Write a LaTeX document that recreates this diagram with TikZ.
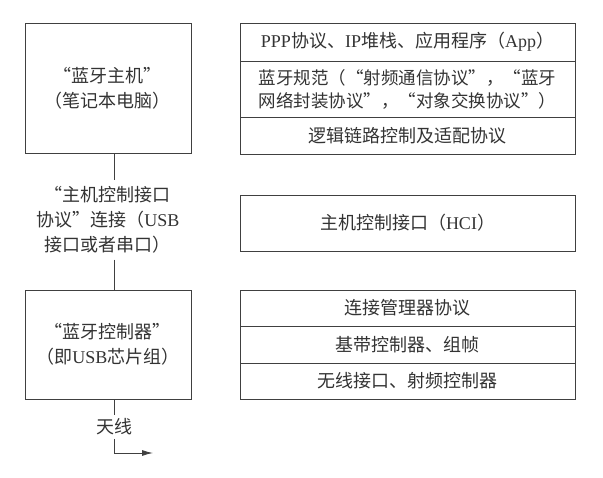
\documentclass[tikz,border=0pt]{standalone}
\usepackage{fontspec}
\setmainfont{Liberation Serif}
\newfontfamily\cjk{Noto Sans CJK SC}
\usetikzlibrary{positioning,arrows.meta}
\newcommand{\en}[1]{{\rmfamily #1}}
\begin{document}
\begin{tikzpicture}[x=1pt,y=-1pt,
  every node/.style={font=\cjk\fontsize{18}{25}\selectfont,text=black!80},
  unit/.style={draw=black!75,line width=0.9pt,minimum width=166pt,align=center},
  layer/.style={draw=black!75,line width=0.9pt,minimum width=335pt,inner sep=0pt,outer sep=0pt,align=center},
  wire/.style={draw=black!75,line width=0.9pt}]
\useasboundingbox (0,0) rectangle (603,478);
% Host, HCI link, controller
\node[unit,minimum height=130pt] (host) at (108,88) {“蓝牙主机”\\（笔记本电脑）};
\node[align=center,inner ysep=6pt] (hcilink) at (108,220) {“主机控制接口\\协议”连接（\en{USB}\\接口或者串口）};
\node[unit,minimum height=109pt] (ctrl) at (108,344.5) {“蓝牙控制器”\\（即\en{USB}芯片组）};
\node (ant) at (114,427) {天线};
\coordinate (anttip) at (153,453);
\draw[wire] (host.south -| ant) -- (hcilink.north -| ant);
\draw[wire] (hcilink.south -| ant) -- (ctrl.north -| ant);
\draw[wire] (ctrl.south -| ant) -- (ant.north);
\draw[wire,-{Latex[length=11pt,width=6pt]}] (ant.south) |- (anttip);
% Host stack
\node[layer,minimum height=38pt] (app) at (407.5,42) {\en{PPP}协议、\en{IP}堆栈、应用程序（\en{App}）};
\node[layer,minimum height=56pt,align=left,below=0pt of app,font=\cjk\fontsize{17.5}{23}\selectfont] (spec) {蓝牙规范（“射频通信协议”，“蓝牙\\网络封装协议”，“对象交换协议”）};
\node[layer,minimum height=37pt,below=0pt of spec] (l2cap) {逻辑链路控制及适配协议};
% HCI
\node[layer,minimum height=56pt] (hci) at (407.5,223) {主机控制接口（\en{HCI}）};
% Controller stack
\node[layer,minimum height=36pt] (lmp) at (407.5,308) {连接管理器协议};
\node[layer,minimum height=37pt,below=0pt of lmp] (bb) {基带控制器、组帧};
\node[layer,minimum height=36pt,below=0pt of bb] (radio) {无线接口、射频控制器};
\end{tikzpicture}
\end{document}
